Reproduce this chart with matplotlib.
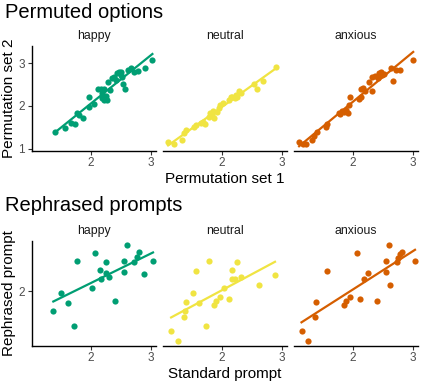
import numpy as np
import matplotlib
matplotlib.use("Agg")
import matplotlib.pyplot as plt

plt.rcParams['font.family'] = ['Liberation Sans', 'DejaVu Sans']

emotions = ['happy', 'neutral', 'anxious']
colors = {'happy': '#009E73', 'neutral': '#F0E442', 'anxious': '#D55E00'}

# Permuted options: set 1 (x) vs set 2 (y)
perm_happy_x = [1.40, 1.57, 1.67, 1.74, 1.78, 1.81, 1.88, 1.97, 1.97, 2.06, 2.13, 2.17,
                2.19, 2.19, 2.23, 2.25, 2.28, 2.23, 2.29, 2.33, 2.36, 2.39, 2.42, 2.44,
                2.47, 2.50, 2.50, 2.53, 2.54, 2.58, 2.62, 2.67, 2.72, 2.79, 2.90, 3.03]
perm_happy_y = [1.39, 1.49, 1.61, 1.59, 1.84, 1.79, 1.72, 1.98, 2.21, 2.05, 2.39, 2.39,
                2.30, 2.18, 2.14, 2.23, 2.14, 2.39, 2.55, 2.38, 2.65, 2.67, 2.61, 2.77,
                2.80, 2.79, 2.73, 2.67, 2.51, 2.40, 2.84, 2.88, 2.80, 2.82, 2.88, 3.08]

perm_neutral_x = [1.11, 1.21, 1.34, 1.38, 1.41, 1.54, 1.58, 1.65, 1.73, 1.69, 1.79, 1.81,
                  1.86, 1.87, 1.84, 1.93, 1.96, 1.98, 2.03, 2.12, 2.15, 2.18, 2.22, 2.24,
                  2.26, 2.29, 2.32, 2.54, 2.59, 2.69, 2.91]
perm_neutral_y = [1.16, 1.11, 1.20, 1.36, 1.44, 1.50, 1.55, 1.61, 1.59, 1.63, 1.75, 1.83,
                  1.89, 1.71, 1.79, 1.87, 1.95, 2.02, 2.06, 2.14, 2.20, 2.22, 2.18, 2.26,
                  2.22, 2.36, 2.31, 2.51, 2.39, 2.59, 2.90]

perm_anxious_x = [1.11, 1.17, 1.22, 1.33, 1.36, 1.40, 1.56, 1.58, 1.77, 1.79, 1.83, 1.86,
                  1.89, 1.92, 1.94, 1.96, 2.11, 2.14, 2.14, 2.18, 2.21, 2.28, 2.33, 2.33,
                  2.38, 2.42, 2.44, 2.47, 2.49, 2.53, 2.64, 2.67, 2.73, 2.79, 3.01]
perm_anxious_y = [1.16, 1.11, 1.11, 1.20, 1.30, 1.40, 1.50, 1.59, 1.84, 1.81, 1.89, 1.87,
                  1.91, 1.84, 2.02, 2.22, 2.16, 2.22, 2.39, 2.41, 2.36, 2.55, 2.34, 2.67,
                  2.70, 2.65, 2.77, 2.80, 2.73, 2.75, 2.88, 2.59, 2.83, 2.83, 3.08]

# Rephrased prompts: standard (x) vs rephrased (y)
reph_happy_x = [1.38, 1.51, 1.62, 1.73, 1.78, 2.03, 2.07, 2.16, 2.18, 2.25, 2.25, 2.31,
                2.41, 2.56, 2.56, 2.61, 2.73, 2.77, 2.81, 2.89, 3.04]
reph_happy_y = [1.76, 1.98, 1.85, 1.57, 2.38, 2.04, 2.47, 2.27, 2.15, 2.36, 2.23, 2.18,
                1.88, 2.38, 2.24, 2.58, 2.36, 2.43, 2.49, 2.21, 2.37]

reph_neutral_x = [1.16, 1.27, 1.38, 1.39, 1.41, 1.52, 1.57, 1.63, 1.74, 1.79, 1.87, 1.91,
                  1.97, 2.04, 2.13, 2.17, 2.18, 2.22, 2.25, 2.32, 2.63, 2.89]
reph_neutral_y = [1.51, 1.38, 1.68, 1.76, 1.87, 1.98, 2.25, 1.85, 1.57, 2.38, 1.83, 1.88,
                  1.93, 2.04, 1.90, 2.27, 2.15, 2.15, 2.36, 2.18, 2.08, 2.20]

reph_anxious_x = [1.15, 1.26, 1.37, 1.39, 1.57, 1.86, 1.89, 1.96, 2.07, 2.13, 2.19, 2.25,
                  2.41, 2.56, 2.56, 2.61, 2.62, 2.74, 2.76, 2.79, 2.82, 3.04]
reph_anxious_y = [1.51, 1.38, 1.68, 1.87, 2.25, 1.83, 1.88, 1.93, 2.47, 1.90, 2.15, 2.23,
                  1.88, 2.38, 2.24, 2.58, 2.08, 2.36, 2.41, 2.46, 2.49, 2.37]

perm = {'happy': (perm_happy_x, perm_happy_y),
        'neutral': (perm_neutral_x, perm_neutral_y),
        'anxious': (perm_anxious_x, perm_anxious_y)}
reph = {'happy': (reph_happy_x, reph_happy_y),
        'neutral': (reph_neutral_x, reph_neutral_y),
        'anxious': (reph_anxious_x, reph_anxious_y)}

W, H = 423, 382
fig = plt.figure(figsize=(W / 100, H / 100), dpi=100)

def px_axes(x0, y0, x1, y1):
    # pixel box (top-left origin) -> figure fraction
    return fig.add_axes([x0 / W, 1 - y1 / H, (x1 - x0) / W, (y1 - y0) / H])

panel_x = [(32, 156), (163, 287), (294, 418)]
xlim = (1.025, 3.09)

def draw_row(data, ytop, ybot, ylim, xlabel, ylabel):
    for i, emo in enumerate(emotions):
        x0, x1 = panel_x[i]
        ax = px_axes(x0, ytop, x1, ybot)
        x, y = np.array(data[emo][0]), np.array(data[emo][1])
        c = colors[emo]
        ax.scatter(x, y, s=20, color=c, linewidths=0, zorder=3)
        b, a = np.polyfit(x, y, 1)
        xs = np.array([x.min(), x.max()])
        ax.plot(xs, a + b * xs, color=c, lw=1.6, zorder=4)
        ax.set_xticks([2, 3])
        ax.set_yticks([1, 2, 3])
        ax.set_xlim(*xlim)
        ax.set_ylim(*ylim)
        for s in ['top', 'right']:
            ax.spines[s].set_visible(False)
        ax.spines['bottom'].set_linewidth(1.0)
        ax.spines['left'].set_linewidth(1.0)
        ax.tick_params(axis='both', labelsize=8.5, labelcolor='#4D4D4D',
                       color='#333333', length=3, width=0.8, pad=2)
        if i > 0:
            ax.spines['left'].set_visible(False)
            ax.tick_params(axis='y', left=False, labelleft=False)
        ax.set_title(emo, fontsize=8.8, color='#1A1A1A', pad=5)
        ax.patch.set_alpha(0)
        if i == 1:
            ax.set_xlabel(xlabel, fontsize=11, labelpad=2)
        if i == 0:
            ax.set_ylabel(ylabel, fontsize=11, labelpad=2)

draw_row(perm, 46, 150.5, (0.96, 3.40), 'Permutation set 1', 'Permutation set 2')
draw_row(reph, 241, 345.5, (1.325, 2.625), 'Standard prompt', 'Rephrased prompt')

fig.text(5 / W, 1 - 12 / H, 'Permuted options', fontsize=14.5, va='center', ha='left')
fig.text(5 / W, 1 - 206 / H, 'Rephrased prompts', fontsize=14.5, va='center', ha='left')

fig.savefig('out.png', dpi=100)
